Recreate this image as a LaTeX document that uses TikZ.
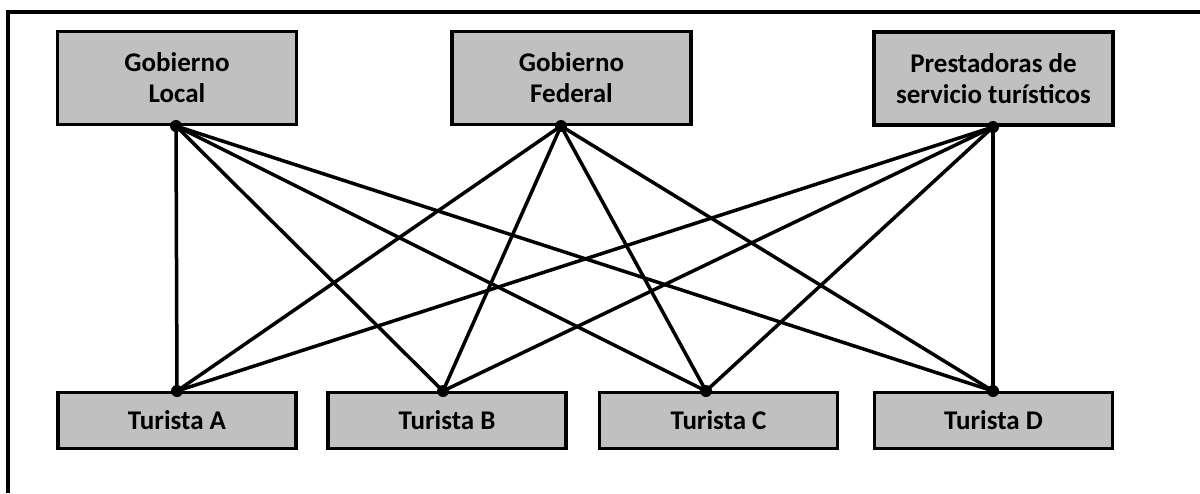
\documentclass[tikz,border=0pt]{standalone}
\usepackage{fontspec}
\setmainfont{Carlito}
\definecolor{boxgray}{RGB}{192,192,192}
\begin{document}
\begin{tikzpicture}[x=1pt,y=-1pt,
  topbox/.style={draw=black,fill=boxgray,line width=3.5pt,rectangle,inner sep=0pt,
    minimum width=239pt,minimum height=93pt,align=center,
    font=\fontsize{27}{31}\selectfont\bfseries},
  botbox/.style={draw=black,fill=boxgray,line width=3.5pt,rectangle,inner sep=0pt,
    minimum width=238pt,minimum height=56pt,align=center,
    font=\fontsize{27}{31}\selectfont\bfseries},
  link/.style={line width=3.5pt},
  dotn/.style={circle,fill=black,inner sep=0pt,minimum size=12pt}]
\useasboundingbox (0,0) rectangle (1200,493);
\draw[line width=3.5pt] (1200,12) -- (8,12) -- (8,493);
% top boxes
\node[topbox] (gl) at (177,78) {Gobierno\\Local};
\node[topbox] (gf) at (571.5,78) {Gobierno\\Federal};
\node[topbox] (ps) at (993.5,78.5) {Prestadoras de\\servicio turísticos};
% bottom boxes
\node[botbox] (ta) at (177,420.5) {Turista A};
\node[botbox] (tb) at (447,420.5) {Turista B};
\node[botbox] (tc) at (718.5,420.5) {Turista C};
\node[botbox] (td) at (993.5,420.5) {Turista D};
% connection points
\node[dotn] (pgl) at (176,126) {};
\node[dotn] (pgf) at (561,126) {};
\node[dotn] (pps) at (993,127) {};
\node[dotn] (pta) at (177,391) {};
\node[dotn] (ptb) at (443,391) {};
\node[dotn] (ptc) at (706,391) {};
\node[dotn] (ptd) at (993,391) {};
\foreach \s in {pgl,pgf,pps}{
  \foreach \t in {pta,ptb,ptc,ptd}{
    \draw[link] (\s.center) -- (\t.center);
  }
}
\end{tikzpicture}
\end{document}
